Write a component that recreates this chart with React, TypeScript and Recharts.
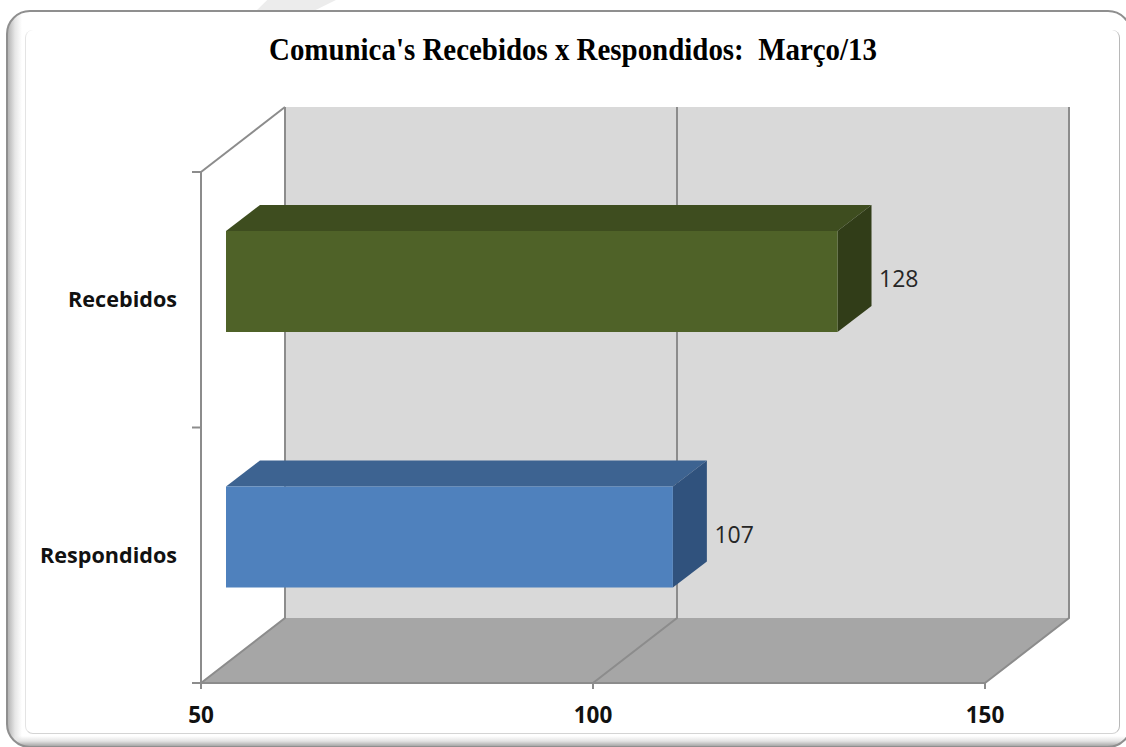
import { BarChart, Bar, XAxis, YAxis, LabelList, usePlotArea } from "recharts";

// dados
const categories = ["Recebidos", "Respondidos"];
const values = [128, 107];
const xTicks = [50, 100, 150];
const xDomain = [50, 150];

const chartData = categories.map((name, i) => ({ name, value: values[i] }));

// frente, topo, lado
const barColors = [
  ["#4f6228", "#3e4d1f", "#313d18"],
  ["#4f81bd", "#3d6391", "#30527d"],
];

const AXIS = "#8c8c8c";
const WALL = "#d9d9d9";
const FLOOR = "#a6a6a6";
const LINE_W = 2;

// profundidade do 3D
const DEPTH_X = 84;
const DEPTH_Y = 65;
const BAR_DX = 25;
const BAR_DY = 18;
const BAR_DEPTH_X = 34;
const BAR_DEPTH_Y = 26;

// paredes, chao e linhas de grade atras das barras
function Walls() {
  const plot = usePlotArea();
  if (!plot) return null;
  const { x, y, width, height } = plot;
  const left = x;
  const right = x + width;
  const top = y;
  const bottom = y + height;
  const toX = (v: number) => x + ((v - xDomain[0]) / (xDomain[1] - xDomain[0])) * width;

  return (
    <g>
      <polygon
        points={`${left + DEPTH_X},${top - DEPTH_Y} ${right + DEPTH_X},${top - DEPTH_Y} ${right + DEPTH_X},${bottom - DEPTH_Y} ${left + DEPTH_X},${bottom - DEPTH_Y}`}
        fill={WALL}
      />
      <polygon
        points={`${left},${bottom} ${right},${bottom} ${right + DEPTH_X},${bottom - DEPTH_Y} ${left + DEPTH_X},${bottom - DEPTH_Y}`}
        fill={FLOOR}
      />
      {xTicks.map((t) => (
        <polyline
          key={t}
          points={`${toX(t)},${bottom} ${toX(t) + DEPTH_X},${bottom - DEPTH_Y} ${toX(t) + DEPTH_X},${top - DEPTH_Y}`}
          fill="none"
          stroke={AXIS}
          strokeWidth={LINE_W}
        />
      ))}
      <line x1={left} y1={top} x2={left + DEPTH_X} y2={top - DEPTH_Y} stroke={AXIS} strokeWidth={LINE_W} />
      {/* marcas entre as categorias */}
      {[0, 1, 2].map((i) => {
        const ty = top + (i * height) / categories.length;
        return <line key={i} x1={left - 9} y1={ty} x2={left} y2={ty} stroke={AXIS} strokeWidth={LINE_W} />;
      })}
    </g>
  );
}

function Bar3D(props: any) {
  const { x, y, width, height, index } = props;
  const [front, topColor, side] = barColors[index];
  const fx = x + BAR_DX;
  const fy = y - BAR_DY;
  const rx = fx + width;
  const by = fy + height;
  return (
    <g>
      <polygon
        points={`${fx},${fy} ${fx + BAR_DEPTH_X},${fy - BAR_DEPTH_Y} ${rx + BAR_DEPTH_X},${fy - BAR_DEPTH_Y} ${rx},${fy}`}
        fill={topColor}
      />
      <polygon
        points={`${rx},${fy} ${rx + BAR_DEPTH_X},${fy - BAR_DEPTH_Y} ${rx + BAR_DEPTH_X},${by - BAR_DEPTH_Y} ${rx},${by}`}
        fill={side}
      />
      <rect x={fx} y={fy} width={width} height={height} fill={front} />
    </g>
  );
}

function ValueLabel(props: any) {
  const { x, y, width, height, value } = props;
  return (
    <text
      x={x + width + BAR_DX + 41.5}
      y={y - BAR_DY + height / 2 - 3.5}
      dominantBaseline="central"
      fontFamily="Open Sans"
      fontSize={23}
      fill="#262626"
    >
      {value}
    </text>
  );
}

export default function App() {
  return (
    <div style={{ position: "absolute", left: 0, top: 0, width: 1126, height: 747, overflow: "hidden", background: "#fff" }}>
      {/* marca d'agua */}
      <div
        style={{
          position: "absolute",
          left: 256,
          top: 0,
          width: 80,
          height: 11,
          background: "#ececec",
          clipPath: "polygon(14% 0, 100% 0, 72% 100%, 0 100%)",
        }}
      />
      {/* moldura */}
      <div
        style={{
          position: "absolute",
          left: 6,
          top: 10,
          width: 1122,
          height: 734,
          border: "2px solid #8f8f8f",
          borderRadius: 24,
          background:
            "linear-gradient(0deg, #a8a8a8 0, #e4e4e4 5px, rgba(255,255,255,0) 10px), linear-gradient(90deg, #b5b5b5 0, #e6e6e6 7px, #fff 14px)",
        }}
      />
      <div
        style={{
          position: "absolute",
          left: 25,
          top: 30,
          width: 1093,
          height: 703,
          borderLeft: "1.5px solid #e4e4e4",
          borderRight: "1.5px solid #b8b8b8",
          borderBottom: "1.5px solid #d4d4d4",
          borderRadius: 8,
          background: "#fff",
        }}
      />
      <div style={{ position: "absolute", left: 0, top: 0 }}>
        <BarChart
          width={1126}
          height={747}
          layout="vertical"
          data={chartData}
          margin={{ top: 172, right: 141, bottom: 0, left: 0 }}
          barSize={101}
        >
          <Walls />
          <text
            x={573}
            y={60}
            textAnchor="middle"
            fontFamily="Liberation Serif"
            fontWeight="bold"
            fontSize={32}
            fill="#000"
            textLength={608}
            lengthAdjust="spacingAndGlyphs"
            style={{ whiteSpace: "pre" }}
          >
            {"Comunica's Recebidos x Respondidos:  Março/13"}
          </text>
          <XAxis
            type="number"
            domain={xDomain}
            ticks={xTicks}
            interval={0}
            height={64}
            axisLine={{ stroke: AXIS, strokeWidth: LINE_W }}
            tickLine={{ stroke: AXIS, strokeWidth: LINE_W }}
            tickSize={6}
            tickMargin={18}
            tick={{ fontFamily: "Open Sans", fontWeight: "bold", fontSize: 22.5, fill: "#111" }}
          />
          <YAxis
            type="category"
            dataKey="name"
            width={201}
            axisLine={{ stroke: AXIS, strokeWidth: LINE_W }}
            tickLine={false}
            tickSize={0}
            tickMargin={24}
            tick={{ fontFamily: "Open Sans", fontWeight: "bold", fontSize: 21.6, fill: "#111" }}
          />
          <Bar dataKey="value" shape={Bar3D} isAnimationActive={false}>
            <LabelList dataKey="value" content={ValueLabel} />
          </Bar>
        </BarChart>
      </div>
    </div>
  );
}
